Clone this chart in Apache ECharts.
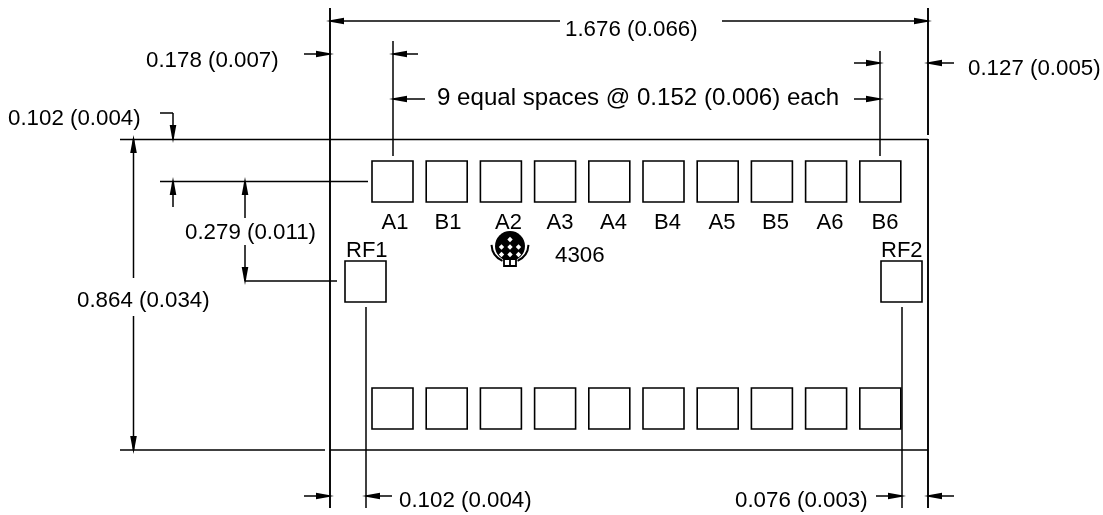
<!DOCTYPE html>
<html><head><meta charset="utf-8">
<style>html,body{margin:0;padding:0;background:#fff}#c{width:1103px;height:515px}</style>
<script src="https://cdn.jsdelivr.net/npm/echarts@6/dist/echarts.min.js"></script>
</head><body><div id="c"></div>
<script>
// Drawing values, in drawing units
const padLefts = [372,426.2,480.4,534.6,588.8,643,697.2,751.4,805.6,859.8];
const padRowTops = [161,388];
const rfPadLefts = [345,881];
const rfPadTop = [261];
const padSize = [41];
const heavyLines = [[330,8,330,508],[928,8,928,135],[928,139,928,508]];
const thinLines = [
 [120,139.5,928,139.5],[120,450,325,450],[330,450,928,450],
 [393,41,393,156],[880,51,880,156],
 [366,307,366,508],[902,307,902,508],
 [330,21,560,21],[722,21,928,21],
 [304,54,330,54],[393,54,418,54],[393,99,425,99],
 [854,63,880,63],[854,99,880,99],[928,63,954,63],
 [160,113,173,113],[173,113,173,139],
 [160,181.5,368,181.5],[173,181.5,173,207],[245,181.5,245,218],[245,245,245,281],[245,281,337,281],
 [133.5,139,133.5,278],[133.5,316,133.5,450],
 [304,496,330,496],[366,496,392,496],[876,496,902,496],[928,496,954,496]
];
const arrowTips = [
 [326,21,'L'],[932,21,'R'],[334,54,'R'],[389,54,'L'],[389,99,'L'],[884,63,'R'],[884,99,'R'],[924,63,'L'],
 [173,143,'D'],[173,177,'U'],[245,177,'U'],[245,285,'D'],[133.5,135,'U'],[133.5,454,'D'],
 [334,496,'R'],[362,496,'L'],[906,496,'R'],[924,496,'L']
];
const dimensionLabels = [
 ['1.676 (0.066)',565,29.5,22.3],['0.178 (0.007)',146,60.5,22.3],['0.127 (0.005)',968,68.5,22.3],
 ['9 equal spaces @ 0.152 (0.006) each',437,98.5,24.1],['0.102 (0.004)',8,118.5,22.3],
 ['0.279 (0.011)',185,233,22.3],['0.864 (0.034)',77,301,22.3],['0.102 (0.004)',399,500.5,22.3],['0.076 (0.003)',735,500.5,22.3],
 ['4306',555,255.5,22.3],['RF1',346,251,22],['RF2',881,251,22]
];
const pinNames = ['A1','B1','A2','A3','A4','B4','A5','B5','A6','B6'];
const pinNameCentres = [395,448,508.5,560,613.5,667.5,722,775.5,830,885];
const pinNameRow = [222.5];
const logoCentre = [510,246];

const INK='#000', FONT='"Liberation Sans",Arial,sans-serif';
const chart = echarts.init(document.getElementById('c'),null,{renderer:'canvas'});
function lineItem(list,w){return function(p,api){
  const s=list[p.dataIndex],a=api.coord([s[0],s[1]]),b=api.coord([s[2],s[3]]);
  return {type:'line',shape:{x1:a[0],y1:a[1],x2:b[0],y2:b[1]},style:{stroke:INK,lineWidth:w,fill:null}};
};}
const padList=[];
padRowTops.forEach(t=>padLefts.forEach(l=>padList.push([l,t])));
rfPadLefts.forEach(l=>padList.push([l,rfPadTop[0]]));
const pinLabels=pinNames.map((n,i)=>[n,pinNameCentres[i],pinNameRow[0]]);
function axis(min,max,inv){return {type:'value',min,max,inverse:inv,show:false};}
const DIR={L:[1,0],R:[-1,0],U:[0,1],D:[0,-1]};
chart.setOption({
 animation:false,backgroundColor:'#fff',
 grid:{left:0,right:0,top:0,bottom:0},
 xAxis:axis(0,1103,false),yAxis:axis(0,515,true),
 series:[
  {type:'custom',coordinateSystem:'cartesian2d',clip:false,data:heavyLines,renderItem:lineItem(heavyLines,1.9)},
  {type:'custom',coordinateSystem:'cartesian2d',clip:false,data:thinLines,renderItem:lineItem(thinLines,1.5)},
  {type:'custom',coordinateSystem:'cartesian2d',clip:false,data:padList,renderItem(p,api){
    const d=padList[p.dataIndex],a=api.coord(d),b=api.coord([d[0]+padSize[0],d[1]+padSize[0]]);
    return {type:'rect',shape:{x:a[0],y:a[1],width:b[0]-a[0],height:b[1]-a[1]},style:{stroke:INK,lineWidth:1.6,fill:'#fff'}};
  }},
  {type:'custom',coordinateSystem:'cartesian2d',clip:false,data:arrowTips,renderItem(p,api){
    const t=arrowTips[p.dataIndex],v=DIR[t[2]],a=api.coord([t[0],t[1]]),L=18,H=3.3;
    const bx=a[0]+v[0]*L,by=a[1]+v[1]*L;
    return {type:'polygon',shape:{points:[a,[bx+v[1]*H,by+v[0]*H],[bx-v[1]*H,by-v[0]*H]]},style:{fill:INK}};
  }},
  {type:'custom',coordinateSystem:'cartesian2d',clip:false,data:[logoCentre],renderItem(p,api){
    const c=api.coord(logoCentre),kids=[];
    kids.push({type:'circle',shape:{cx:c[0],cy:c[1],r:15},style:{fill:INK}});
    for(let i=-1;i<=1;i++)for(let j=-1;j<=1;j++){
      if(j===-1&&i!==0)continue;
      const x=c[0]+i*8.5,y=c[1]+1+j*7.5,h=2.7;
      kids.push({type:'polygon',shape:{points:[[x,y-h],[x+h,y],[x,y+h],[x-h,y]]},style:{fill:'#fff'}});
    }
    kids.push({type:'arc',shape:{cx:c[0],cy:c[1]-2,r:18.5,startAngle:0.05,endAngle:1.15,clockwise:true},style:{stroke:INK,fill:null,lineWidth:2}});
    kids.push({type:'arc',shape:{cx:c[0],cy:c[1]-2,r:18.5,startAngle:Math.PI-1.15,endAngle:Math.PI-0.05,clockwise:true},style:{stroke:INK,fill:null,lineWidth:2}});
    kids.push({type:'rect',shape:{x:c[0]-6,y:c[1]+13,width:12,height:7},style:{fill:'#fff',stroke:INK,lineWidth:1.8}});
    kids.push({type:'line',shape:{x1:c[0],y1:c[1]+13,x2:c[0],y2:c[1]+20},style:{stroke:INK,lineWidth:1.8}});
    return {type:'group',children:kids};
  }},
  {type:'custom',coordinateSystem:'cartesian2d',clip:false,data:dimensionLabels,renderItem(p,api){
    const d=dimensionLabels[p.dataIndex],a=api.coord([d[1],d[2]]);
    return {type:'text',x:a[0],y:a[1],style:{text:d[0],font:d[3]+'px '+FONT,fill:INK,textAlign:'left',textVerticalAlign:'middle'}};
  }},
  {type:'custom',coordinateSystem:'cartesian2d',clip:false,data:pinLabels,renderItem(p,api){
    const d=pinLabels[p.dataIndex],a=api.coord([d[1],d[2]]);
    return {type:'text',x:a[0],y:a[1],style:{text:d[0],font:'22px '+FONT,fill:INK,textAlign:'center',textVerticalAlign:'middle'}};
  }}
 ]
});
</script></body></html>
